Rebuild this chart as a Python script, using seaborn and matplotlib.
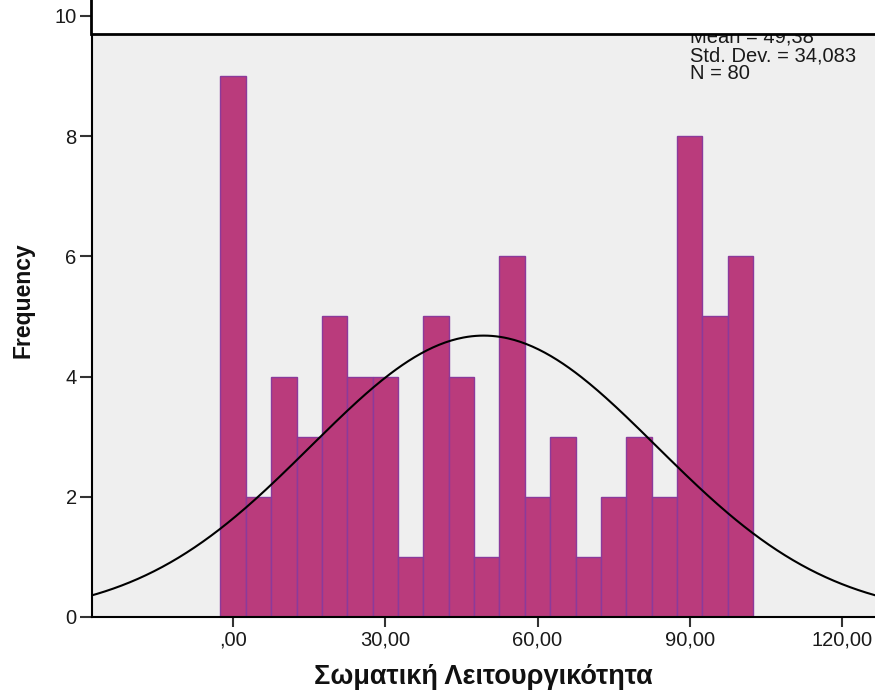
import numpy as np
import pandas as pd
import matplotlib
matplotlib.use("Agg")
import matplotlib.pyplot as plt
from matplotlib.patches import Rectangle
import seaborn as sns

# ---- data ----
bin_centers = [0, 5, 10, 15, 20, 25, 30, 35, 40, 45, 50, 55, 60, 65, 70, 75, 80, 85, 90, 95, 100]
counts = [9, 2, 4, 3, 5, 4, 4, 1, 5, 4, 1, 6, 2, 3, 1, 2, 3, 2, 8, 5, 6]
mean_val = 49.38
std_val = 34.083
n_val = 80
bin_width = 5
x_ticks = [0, 30, 60, 90, 120]
x_tick_labels = [",00", "30,00", "60,00", "90,00", "120,00"]
y_ticks = [0, 2, 4, 6, 8, 10]
x_label = "Σωματική Λειτουργικότητα"
y_label = "Frequency"
stats_lines = ["Mean = 49,38", "Std. Dev. = 34,083", "N = 80"]

df = pd.DataFrame({"value": bin_centers, "count": counts})

sns.set_style("white")
plt.rcParams["font.family"] = ["Liberation Sans", "DejaVu Sans"]

W, H = 875, 692
fig = plt.figure(figsize=(W / 100, H / 100), dpi=100)
ax = fig.add_axes([92 / W, (H - 617) / H, (W - 92) / W, 617 / H])
ax.set_facecolor("#EFEFEF")

sns.histplot(data=df, x="value", weights="count", binwidth=bin_width,
             binrange=(-2.5, 102.5), color="#BA3B7C", edgecolor="#8B3A9B",
             linewidth=1.0, alpha=1, ax=ax, zorder=2)

xs = np.linspace(-30, 130, 400)
ys = n_val * bin_width / (std_val * np.sqrt(2 * np.pi)) * np.exp(-0.5 * ((xs - mean_val) / std_val) ** 2)
sns.lineplot(x=xs, y=ys, color="black", linewidth=1.5, ax=ax, zorder=3)

ax.set_xlim(-27.8, 126.5)
ax.set_ylim(0, 10.266)
ax.set_xticks(x_ticks)
ax.set_xticklabels(x_tick_labels, fontsize=14.5, color="#1a1a1a")
ax.set_yticks(y_ticks)
ax.set_yticklabels([str(v) for v in y_ticks], fontsize=14.5, color="#1a1a1a")
ax.tick_params(axis="both", direction="out", bottom=True, left=True,
               length=7, width=1.5, color="#333333", pad=3)
ax.tick_params(axis="y", length=9, pad=2)
for s in ["top", "right"]:
    ax.spines[s].set_visible(False)
for s in ["left", "bottom"]:
    ax.spines[s].set_color("black")
    ax.spines[s].set_linewidth(1.5)

ax.set_xlabel(x_label, fontsize=19.5, fontweight="bold", labelpad=10, color="#111111")
ax.set_ylabel(y_label, fontsize=16.5, fontweight="bold", color="#111111")
ax.yaxis.set_label_coords(-0.073, 0.514)

ax.text(0.764, 0.955, "\n".join(stats_lines), transform=ax.transAxes, fontsize=14.5,
        va="top", ha="left", linespacing=0.95, color="#1a1a1a", zorder=4)

box = Rectangle((91 / W, (H - 34) / H), 1.0, 0.2, transform=fig.transFigure,
                facecolor="white", edgecolor="black", linewidth=2, zorder=10, clip_on=False)
fig.patches.append(box)

fig.savefig("out.png", dpi=100)
